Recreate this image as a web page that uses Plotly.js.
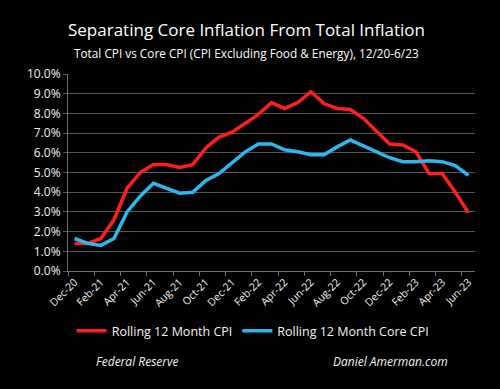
<!DOCTYPE html>
<html><head><meta charset="utf-8">
<script src="https://cdn.plot.ly/plotly-3.0.1.min.js"></script>
<style>html,body{margin:0;padding:0;background:#000;}#chart{width:500px;height:389px;}</style>
</head><body><div id="chart"></div>
<script>
const months = ["Dec-20","Jan-21","Feb-21","Mar-21","Apr-21","May-21","Jun-21","Jul-21","Aug-21","Sep-21","Oct-21","Nov-21","Dec-21","Jan-22","Feb-22","Mar-22","Apr-22","May-22","Jun-22","Jul-22","Aug-22","Sep-22","Oct-22","Nov-22","Dec-22","Jan-23","Feb-23","Mar-23","Apr-23","May-23","Jun-23"];
const totalCPI = [1.4,1.4,1.65,2.6,4.2,5.0,5.4,5.4,5.25,5.4,6.25,6.8,7.05,7.5,7.95,8.55,8.25,8.55,9.1,8.5,8.25,8.2,7.75,7.1,6.45,6.4,6.05,4.95,4.95,4.0,2.95];
const coreCPI = [1.65,1.4,1.3,1.65,3.0,3.8,4.45,4.2,3.95,4.0,4.6,4.95,5.5,6.05,6.45,6.45,6.15,6.05,5.9,5.9,6.3,6.65,6.35,6.05,5.75,5.55,5.55,5.6,5.55,5.35,4.85];
const yTicks = [0,1,2,3,4,5,6,7,8,9,10];
const yTickText = yTicks.map(v => v.toFixed(1) + "%");

const xIdx = months.map((m,i)=>i);
const labelIdx = xIdx.filter(i => i % 2 === 0);
const labelText = labelIdx.map(i => months[i]);

const font = "Open Sans, Lato, sans-serif";
const traces = [
  {x: xIdx, y: totalCPI, type: "scatter", mode: "lines", name: "Rolling 12 Month CPI",
   line: {color: "#FF1E1E", width: 3.5}},
  {x: xIdx, y: coreCPI, type: "scatter", mode: "lines", name: "Rolling 12 Month Core CPI",
   line: {color: "#2AB8EE", width: 3.5}}
];
const layout = {
  width: 500, height: 389,
  paper_bgcolor: "#000", plot_bgcolor: "#000",
  margin: {l: 68, r: 25, t: 74, b: 118},
  showlegend: true,
  legend: {orientation: "h", x: 0.455, xanchor: "center", y: -0.305, yanchor: "middle",
    font: {family: font, size: 12.5, color: "#f2f2f2"}, bgcolor: "rgba(0,0,0,0)", itemwidth: 30},
  xaxis: {range: [-0.5, 30.5], tickmode: "array", tickvals: labelIdx, ticktext: labelText,
    tickangle: -45, ticks: "", showgrid: false, zeroline: false,
    showline: true, linecolor: "#6f6f6f", linewidth: 1,
    tickfont: {family: font, size: 10.5, color: "#f2f2f2"},
    minor: {tickmode: "linear", tick0: -0.5, dtick: 2, ticks: "outside", ticklen: 4, tickcolor: "#6f6f6f", tickwidth: 1, showgrid: false}
  },
  yaxis: {range: [0, 10], tickmode: "array", tickvals: yTicks, ticktext: yTickText,
    ticks: "outside", ticklen: 4, tickcolor: "#555555",
    showgrid: true, gridcolor: "#555555", gridwidth: 1, zeroline: false,
    showline: true, linecolor: "#6f6f6f", linewidth: 1,
    tickfont: {family: font, size: 12, color: "#f2f2f2"}},
  annotations: [
    {text: "Separating Core Inflation From Total Inflation", xref: "paper", yref: "paper",
     x: 0.438, y: 1.227, xanchor: "center", yanchor: "middle", showarrow: false,
     font: {family: font, size: 17, color: "#ffffff"}},
    {text: "Total CPI vs Core CPI (CPI Excluding Food & Energy), 12/20-6/23", xref: "paper", yref: "paper",
     x: 0.438, y: 1.105, xanchor: "center", yanchor: "middle", showarrow: false,
     font: {family: font, size: 11.8, color: "#ffffff"}},
    {text: "<i>Federal Reserve</i>", xref: "paper", yref: "paper",
     x: (137 - 68) / 407, y: (271 - 361) / 197, xanchor: "center", yanchor: "middle", showarrow: false,
     font: {family: font, size: 12, color: "#f2f2f2"}},
    {text: "<i>Daniel Amerman.com</i>", xref: "paper", yref: "paper",
     x: (390 - 68) / 407, y: (271 - 361) / 197, xanchor: "center", yanchor: "middle", showarrow: false,
     font: {family: font, size: 12, color: "#f2f2f2"}}
  ]
};
Plotly.newPlot("chart", traces, layout, {displayModeBar: false, staticPlot: true});
</script></body></html>
